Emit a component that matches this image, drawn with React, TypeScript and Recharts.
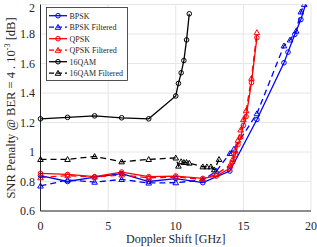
import { LineChart, Line, XAxis, YAxis, CartesianGrid, Legend } from 'recharts'

const X_TICKS = [0, 5, 10, 15, 20]
const Y_TICKS = [0.6, 0.8, 1, 1.2, 1.4, 1.6, 1.8, 2]

const BPSK_X = [0, 2, 4, 6, 8, 10, 12, 14, 16, 18, 18.3, 18.8, 19.25, 19.7]
const BPSK_Y = [0.84, 0.8, 0.83, 0.853, 0.8, 0.82, 0.792, 0.871, 1.22, 1.605, 1.677, 1.797, 1.898, 2.03]

const BPSK_F_X = [0, 2, 4, 6, 8, 10, 12, 13, 14, 14.3, 16, 18, 18.45, 18.9, 19.25, 19.5]
const BPSK_F_Y = [0.77, 0.81, 0.796, 0.814, 0.79, 0.792, 0.81, 0.87, 0.99, 1.02, 1.26, 1.72, 1.76, 1.82, 1.95, 2.0]

const QPSK_X = [0, 2, 4, 6, 8, 10, 12, 13, 14, 14.2, 14.4, 14.6, 14.8, 15, 15.2, 15.6, 16]
const QPSK_Y = [0.855, 0.848, 0.833, 0.864, 0.833, 0.837, 0.821, 0.837, 0.89, 0.93, 0.98, 1.05, 1.1, 1.18, 1.24, 1.47, 1.775]

const QPSK_F_X = [0, 2, 4, 6, 8, 10, 12, 13, 14, 14.2, 14.4, 14.6, 14.8, 15, 15.2, 15.6, 16]
const QPSK_F_Y = [0.826, 0.84, 0.83, 0.845, 0.825, 0.83, 0.815, 0.85, 0.91, 0.95, 1.01, 1.08, 1.15, 1.22, 1.28, 1.5, 1.81]

const QAM16_X = [0, 2, 4, 6, 8, 10, 10.2, 10.4, 10.6, 10.8, 11]
const QAM16_Y = [1.225, 1.235, 1.245, 1.232, 1.225, 1.38, 1.465, 1.537, 1.62, 1.76, 1.937]

const QAM16_F_X = [0, 2, 4, 6, 8, 10, 10.2, 10.4, 10.6, 10.8, 11, 12, 12.3, 12.6, 12.85, 13.2]
const QAM16_F_Y = [0.95, 0.95, 0.97, 0.934, 0.95, 0.96, 0.905, 0.935, 0.93, 0.93, 0.925, 0.9, 0.9, 0.9, 0.88, 0.95]

const BLUE = '#0000ff'
const RED = '#ff0000'
const BLACK = '#000000'
const AXIS = '#262626'
const FONT = '"Liberation Serif", "DejaVu Serif", serif'

type Marker = 'circle' | 'triangle'

const SERIES: { name: string; xs: number[]; ys: number[]; color: string; dashed: boolean; marker: Marker }[] = [
  { name: 'BPSK', xs: BPSK_X, ys: BPSK_Y, color: BLUE, dashed: false, marker: 'circle' },
  { name: 'BPSK Filtered', xs: BPSK_F_X, ys: BPSK_F_Y, color: BLUE, dashed: true, marker: 'triangle' },
  { name: 'QPSK', xs: QPSK_X, ys: QPSK_Y, color: RED, dashed: false, marker: 'circle' },
  { name: 'QPSK Filtered', xs: QPSK_F_X, ys: QPSK_F_Y, color: RED, dashed: true, marker: 'triangle' },
  { name: '16QAM', xs: QAM16_X, ys: QAM16_Y, color: BLACK, dashed: false, marker: 'circle' },
  { name: '16QAM Filtered', xs: QAM16_F_X, ys: QAM16_F_Y, color: BLACK, dashed: true, marker: 'triangle' },
]

function markerShape(kind: Marker, cx: number, cy: number, color: string, key?: string) {
  if (kind === 'circle') {
    return <circle key={key} cx={cx} cy={cy} r={2.3} fill="none" stroke={color} strokeWidth={1} />
  }
  const s = 2.8
  const d = `M${cx},${cy - s} L${cx + s},${cy + s * 0.75} L${cx - s},${cy + s * 0.75} Z`
  return <path key={key} d={d} fill="none" stroke={color} strokeWidth={1} />
}

const makeDot = (kind: Marker, color: string) => (props: any) => {
  const { cx, cy, index } = props
  if (cx == null || cy == null) return <g key={`n${index}`} />
  return markerShape(kind, cx, cy, color, `d${index}`)
}

function LegendBox() {
  const rowH = 11.5
  return (
    <svg width={82} height={74} style={{ display: 'block' }}>
      <rect x={0.5} y={0.5} width={81} height={73} fill="#ffffff" stroke={AXIS} strokeWidth={0.8} />
      {SERIES.map((s, i) => {
        const y = 8.7 + i * rowH
        return (
          <g key={s.name}>
            <line x1={3} x2={21} y1={y} y2={y} stroke={s.color} strokeWidth={1.3}
              strokeDasharray={s.dashed ? '5 3' : undefined} />
            {markerShape(s.marker, 12, y, s.color)}
            <text x={23.5} y={y + 2.8} fontSize={8} fontFamily={FONT} fill={AXIS}>{s.name}</text>
          </g>
        )
      })}
    </svg>
  )
}

function YLabel() {
  return (
    <text x={15} y={108} transform="rotate(-90, 15, 108)" textAnchor="middle"
      fontSize={12.5} fontFamily={FONT} fill={AXIS}>
      SNR Penalty @ BER = 4 . 10
      <tspan fontSize={8} dy={-5}>-3</tspan>
      <tspan dy={5}> [dB]</tspan>
    </text>
  )
}

function XLabel() {
  return (
    <text x={175.75} y={242.5} textAnchor="middle" fontSize={12} fontFamily={FONT} fill={AXIS}>
      Doppler Shift [GHz]
    </text>
  )
}

export default function App() {
  return (
    <div style={{ position: 'absolute', left: 0, top: 0, background: '#fff' }}>
      <LineChart width={317} height={247} margin={{ top: 4.5, right: 6, bottom: 6, left: 6.5 }}
        style={{ fontFamily: FONT }}>
        <CartesianGrid stroke="#e6e6e6" strokeWidth={1} />
        <XAxis type="number" dataKey="x" domain={[0, 20]} ticks={X_TICKS} height={30}
          stroke={AXIS} tickLine={false} tickSize={4} tickMargin={6}
          tick={{ fill: AXIS, fontSize: 12, fontFamily: FONT }}
          label={{ content: () => <XLabel /> }} />
        <YAxis type="number" domain={[0.6, 2]} ticks={Y_TICKS} width={34} allowDataOverflow
          stroke={AXIS} tickLine={false} tickSize={3} tickMargin={2.5}
          tick={{ fill: AXIS, fontSize: 12, fontFamily: FONT }}
          tickFormatter={(v: number) => String(Math.round(v * 10) / 10)}
          label={{ content: () => <YLabel /> }} />
        {SERIES.map((s) => (
          <Line key={s.name} name={s.name} type="linear" dataKey="y"
            data={s.xs.map((x, i) => ({ x, y: s.ys[i] }))}
            stroke={s.color} strokeWidth={1.3}
            strokeDasharray={s.dashed ? '6 4' : undefined}
            dot={makeDot(s.marker, s.color)} activeDot={false}
            isAnimationActive={false} />
        ))}
        <Legend layout="vertical" align="center" verticalAlign="middle"
          wrapperStyle={{ left: 46, top: 7, width: 82, height: 74 }}
          content={() => <LegendBox />} />
      </LineChart>
    </div>
  )
}
